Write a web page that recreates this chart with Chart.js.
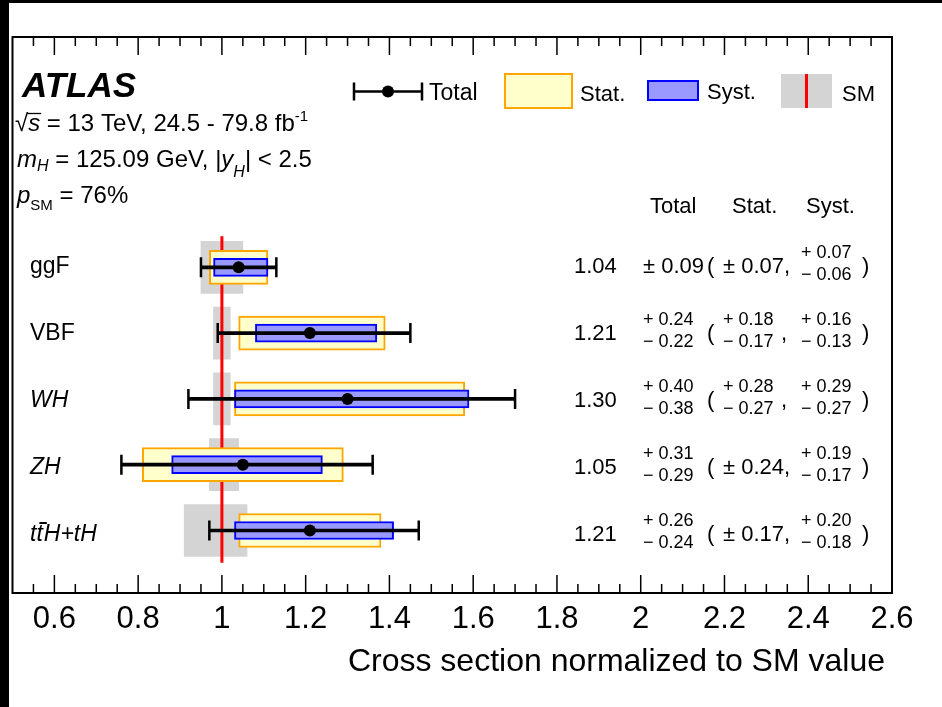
<!DOCTYPE html>
<html>
<head>
<meta charset="utf-8">
<script src="https://cdn.jsdelivr.net/npm/chart.js@4.4.0/dist/chart.umd.min.js"></script>
<style>
html, body { margin: 0; padding: 0; background: #fff; }
#wrap { width: 942px; height: 707px; }
</style>
</head>
<body>
<div id="wrap"><canvas id="chart" width="942" height="707"></canvas></div>
<script>
// measured cross sections, normalised to the SM prediction
var processes = ["ggF", "VBF", "WH", "ZH", "ttH+tH"];
var central = [1.04, 1.21, 1.30, 1.05, 1.21];
var totalUp = [0.09, 0.24, 0.40, 0.31, 0.26];
var totalDown = [0.09, 0.22, 0.38, 0.29, 0.24];
var statUp = [0.07, 0.18, 0.28, 0.24, 0.17];
var statDown = [0.07, 0.17, 0.27, 0.24, 0.17];
var systUp = [0.07, 0.16, 0.29, 0.19, 0.20];
var systDown = [0.06, 0.13, 0.27, 0.17, 0.18];
// SM theory uncertainty band
var smUp = [0.05, 0.02, 0.02, 0.04, 0.06];
var smDown = [0.05, 0.02, 0.02, 0.03, 0.09];
var smValue = 1;

var tickValues = [0.6, 0.8, 1.0, 1.2, 1.4, 1.6, 1.8, 2.0, 2.2, 2.4, 2.6];
var tickLabels = ["0.6", "0.8", "1", "1.2", "1.4", "1.6", "1.8", "2", "2.2", "2.4", "2.6"];

var FONT = "'Liberation Sans', Arial, Helvetica, sans-serif";

function band(lo, hi, c) {
    return processes.map(function (p, i) {
        var mid = c === undefined ? central[i] : c;
        return { x: [mid - lo[i], mid + hi[i]], y: i };
    });
}

function ends(side) {
    return processes.map(function (p, i) {
        return { x: side < 0 ? central[i] - totalDown[i] : central[i] + totalUp[i], y: i };
    });
}

var caps = ends(-1).concat(ends(1));
var points = processes.map(function (p, i) { return { x: central[i], y: i }; });

// ------- text helpers -------
function txt(ctx, s, x, y, size, style, align) {
    ctx.font = (style || "") + " " + size + "px " + FONT;
    ctx.textAlign = align || "left";
    ctx.fillText(s, x, y);
    return ctx.measureText(s).width;
}

function rich(ctx, x, y, parts) {
    parts.forEach(function (p) {
        x += txt(ctx, p[0], x, y + (p[3] || 0), p[1], p[2]);
    });
    return x;
}

function fmt(v) { return v.toFixed(2); }

function errText(ctx, x, base, up, dn, symSuffix) {
    if (up === dn) {
        return txt(ctx, "\u00b1 " + fmt(up) + (symSuffix || ""), x, base, 22);
    }
    txt(ctx, "+ " + fmt(up), x, base - 15, 18);
    txt(ctx, "\u2212 " + fmt(dn), x, base + 7, 18);
    return 0;
}

var atlasDecor = {
    id: "atlasDecor",
    beforeDraw: function (chart) {
        var ctx = chart.ctx;
        ctx.save();
        ctx.fillStyle = "#fff";
        ctx.fillRect(0, 0, chart.width, chart.height);
        ctx.fillStyle = "#000";
        ctx.fillRect(0, 0, 9, chart.height);
        ctx.fillRect(0, 0, chart.width, 3);
        ctx.restore();
    },
    afterDraw: function (chart) {
        var ctx = chart.ctx, a = chart.chartArea, xs = chart.scales.x, ys = chart.scales.y;
        ctx.save();
        ctx.fillStyle = "#000";
        ctx.strokeStyle = "#000";
        ctx.textBaseline = "alphabetic";

        // inward ticks, top and bottom
        ctx.lineWidth = 1.5;
        for (var k = 11; k < 52; k++) {
            var px = xs.getPixelForValue(k * 0.05);
            var len = (k % 4 === 0) ? 18 : 9;
            ctx.beginPath();
            ctx.moveTo(px, a.top); ctx.lineTo(px, a.top + len);
            ctx.moveTo(px, a.bottom); ctx.lineTo(px, a.bottom - len);
            ctx.stroke();
        }
        ctx.lineWidth = 2;
        ctx.strokeRect(a.left, a.top, a.right - a.left, a.bottom - a.top);

        // axis title
        txt(ctx, "Cross section normalized to SM value", 885, 671, 32, "", "right");

        // ATLAS label and conditions
        txt(ctx, "ATLAS", 22, 97, 35, "italic bold");
        var x0 = 15;
        var wr = txt(ctx, "\u221a", x0, 131, 24);
        ctx.font = "italic 24px " + FONT;
        var ws = ctx.measureText("s").width;
        txt(ctx, "s", x0 + wr, 131, 24, "italic");
        ctx.lineWidth = 1.3;
        ctx.beginPath();
        ctx.moveTo(x0 + wr - 1, 113.5); ctx.lineTo(x0 + wr + ws + 1, 113.5);
        ctx.stroke();
        rich(ctx, x0 + wr + ws, 131, [[" = 13 TeV, 24.5 - 79.8 fb", 24, ""], ["-1", 15, "", -10]]);
        rich(ctx, 17, 167, [["m", 24, "italic"], ["H", 16, "italic", 4], [" = 125.09 GeV, |", 24, ""],
            ["y", 24, "italic"], ["H", 16, "italic", 10], ["| < 2.5", 24, ""]]);
        rich(ctx, 17, 203, [["p", 24, "italic"], ["SM", 15, "", 7], [" = 76%", 24, ""]]);

        // legend
        ctx.lineWidth = 2.5;
        ctx.beginPath();
        ctx.moveTo(354, 91.5); ctx.lineTo(422, 91.5);
        ctx.moveTo(354, 82.5); ctx.lineTo(354, 100.5);
        ctx.moveTo(422, 82.5); ctx.lineTo(422, 100.5);
        ctx.stroke();
        ctx.beginPath(); ctx.arc(388, 91.5, 6, 0, Math.PI * 2); ctx.fill();
        txt(ctx, "Total", 429, 100, 23);

        ctx.fillStyle = "#ffffcc"; ctx.fillRect(505, 74, 67, 34);
        ctx.strokeStyle = "#ffa500"; ctx.lineWidth = 2; ctx.strokeRect(505, 74, 67, 34);
        ctx.fillStyle = "#000";
        txt(ctx, "Stat.", 580, 101, 22);

        ctx.fillStyle = "#9999ff"; ctx.fillRect(648, 81, 50, 19);
        ctx.strokeStyle = "#0000ff"; ctx.strokeRect(648, 81, 50, 19);
        ctx.fillStyle = "#000";
        txt(ctx, "Syst.", 707, 99, 22);

        ctx.fillStyle = "#d4d4d4"; ctx.fillRect(781, 74, 51, 34);
        ctx.fillStyle = "#ff0000"; ctx.fillRect(805, 74, 3, 34);
        ctx.fillStyle = "#000";
        ctx.strokeStyle = "#000";
        txt(ctx, "SM", 842, 101, 22);

        // column headers
        txt(ctx, "Total", 650, 213, 22);
        txt(ctx, "Stat.", 732, 213, 22);
        txt(ctx, "Syst.", 806, 213, 22);

        // per process labels and numbers
        processes.forEach(function (p, i) {
            var base = ys.getPixelForValue(i) + 6 + 1.2 * i;
            if (i < 2) {
                txt(ctx, p, 30, base, 23);
            } else if (i < 4) {
                txt(ctx, p, 30, base, 23, "italic");
            } else {
                var xa = 30;
                xa += txt(ctx, "t", xa, base, 23, "italic");
                var wt = txt(ctx, "t", xa, base, 23, "italic");
                ctx.lineWidth = 2;
                ctx.beginPath();
                ctx.moveTo(xa + 3, Math.round(base - 18)); ctx.lineTo(xa + wt + 4, Math.round(base - 18));
                ctx.stroke();
                txt(ctx, "H+tH", xa + wt + 1, base, 23, "italic");
            }
            txt(ctx, fmt(central[i]), 574, base, 22);
            errText(ctx, 643, base, totalUp[i], totalDown[i]);
            txt(ctx, "(", 707, base, 22);
            errText(ctx, 723, base, statUp[i], statDown[i], ",");
            if (statUp[i] !== statDown[i]) txt(ctx, ",", 781, base, 22);
            errText(ctx, 801, base, systUp[i], systDown[i]);
            txt(ctx, ")", 862, base, 22);
        });
        ctx.restore();
    }
};

var config = {
    type: "scatter",
    data: {
        datasets: [
            {
                type: "bar", indexAxis: "y", stack: "rows", order: 7,
                data: band(smDown, smUp, smValue),
                backgroundColor: "#d4d4d4", borderWidth: 0, barThickness: 52
            },
            {
                type: "line", order: 6,
                data: [{ x: smValue, y: -0.47 }, { x: smValue, y: 4.49 }],
                borderColor: "#ff0000", borderWidth: 3, pointRadius: 0
            },
            {
                type: "bar", indexAxis: "y", stack: "rows", order: 5,
                data: band(statDown, statUp),
                backgroundColor: "#ffffcc", borderColor: "#ffa500", borderWidth: 2,
                borderSkipped: false, barThickness: 34
            },
            {
                type: "bar", indexAxis: "y", stack: "rows", order: 4,
                data: band(systDown, systUp),
                backgroundColor: "#9999ff", borderColor: "#0000ff", borderWidth: 2,
                borderSkipped: false, barThickness: 18
            },
            {
                type: "bar", indexAxis: "y", stack: "rows", order: 3,
                data: band(totalDown, totalUp),
                backgroundColor: "#000", borderWidth: 0, barThickness: 3
            },
            {
                order: 2, data: caps,
                pointStyle: "line", rotation: 90, pointRadius: 10,
                borderColor: "#000", borderWidth: 2.5
            },
            {
                order: 1, data: points,
                pointRadius: 6, backgroundColor: "#000", borderWidth: 0
            }
        ]
    },
    options: {
        responsive: false,
        animation: false,
        events: [],
        layout: { padding: { left: 11, top: 37, right: 50, bottom: 0 } },
        plugins: { legend: { display: false }, tooltip: { enabled: false } },
        scales: {
            x: {
                type: "linear", min: 0.5, max: 2.6, stacked: false, beginAtZero: false,
                grid: { display: false, drawTicks: false },
                border: { display: false },
                afterBuildTicks: function (scale) {
                    scale.ticks = tickValues.map(function (v) { return { value: v }; });
                },
                afterFit: function (scale) { scale.height = 114; },
                ticks: {
                    autoSkip: false, maxRotation: 0, padding: 8, color: "#000",
                    font: { family: FONT, size: 31 },
                    callback: function (v, i) { return tickLabels[i]; }
                }
            },
            y: {
                type: "linear", min: -3.5, max: 4.95, reverse: true, offset: false,
                display: false
            }
        }
    },
    plugins: [atlasDecor]
};

var myChart = new Chart(document.getElementById("chart"), config);
</script>
</body>
</html>
